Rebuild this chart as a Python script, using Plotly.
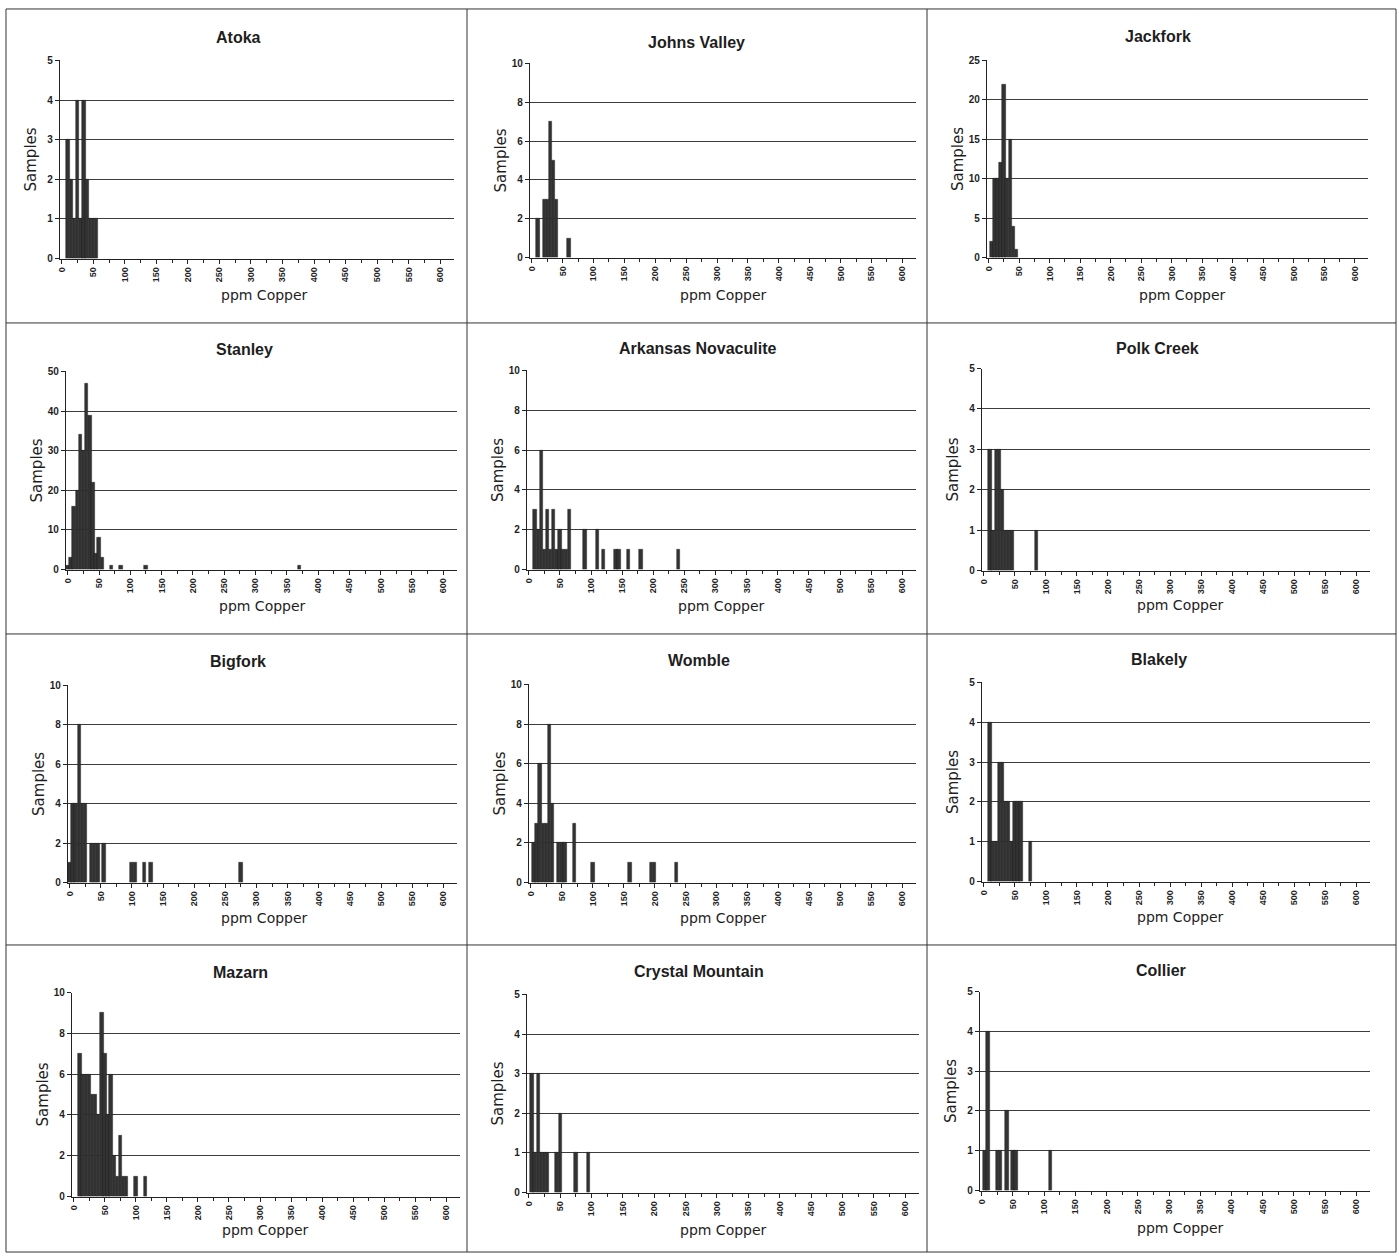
import plotly.graph_objects as go

# Copper distribution (ppm Copper, 5 ppm classes) by formation
atoka_ppm = [10, 15, 20, 25, 30, 35, 40, 45, 50, 55]
atoka_samples = [3, 2, 1, 4, 1, 4, 2, 1, 1, 1]

johns_valley_ppm = [10, 20, 25, 30, 35, 40, 60]
johns_valley_samples = [2, 3, 3, 7, 5, 3, 1]

jackfork_ppm = [5, 10, 15, 20, 25, 30, 35, 40, 45]
jackfork_samples = [2, 10, 10, 12, 22, 10, 15, 4, 1]

stanley_ppm = [0, 5, 10, 15, 20, 25, 30, 35, 40, 45, 50, 55, 70, 85, 125, 370]
stanley_samples = [1, 3, 16, 20, 34, 30, 47, 39, 22, 4, 8, 3, 1, 1, 1, 1]

novaculite_ppm = [10, 15, 20, 25, 30, 35, 40, 45, 50, 55, 60, 65, 90, 110, 120, 140, 145, 160, 180, 240]
novaculite_samples = [3, 2, 6, 1, 3, 1, 3, 1, 2, 1, 1, 3, 2, 2, 1, 1, 1, 1, 1, 1]

polk_creek_ppm = [10, 15, 20, 25, 30, 35, 40, 45, 85]
polk_creek_samples = [3, 1, 3, 3, 2, 1, 1, 1, 1]

bigfork_ppm = [0, 5, 10, 15, 20, 25, 35, 40, 45, 55, 100, 105, 120, 130, 275]
bigfork_samples = [1, 4, 4, 8, 4, 4, 2, 2, 2, 2, 1, 1, 1, 1, 1]

womble_ppm = [5, 10, 15, 20, 25, 30, 35, 45, 50, 55, 70, 100, 160, 195, 200, 235]
womble_samples = [2, 3, 6, 3, 3, 8, 4, 2, 2, 2, 3, 1, 1, 1, 1, 1]

blakely_ppm = [10, 15, 20, 25, 30, 35, 40, 45, 50, 55, 60, 75]
blakely_samples = [4, 1, 1, 3, 3, 2, 2, 1, 2, 2, 2, 1]

mazarn_ppm = [10, 15, 20, 25, 30, 35, 40, 45, 50, 55, 60, 65, 70, 75, 80, 85, 100, 115]
mazarn_samples = [7, 6, 6, 6, 5, 5, 4, 9, 7, 4, 6, 2, 1, 3, 1, 1, 1, 1]

crystal_mtn_ppm = [5, 10, 15, 20, 25, 30, 45, 50, 75, 95]
crystal_mtn_samples = [3, 1, 3, 1, 1, 1, 1, 2, 1, 1]

collier_ppm = [5, 10, 25, 30, 40, 50, 55, 110]
collier_samples = [1, 4, 1, 1, 2, 1, 1, 1]

x_tick_vals = list(range(0, 601, 50))
x_tick_text = [str(v) for v in x_tick_vals]

W, H = 1399, 1260

# name, x, y, y max, y step, plot box (left, right, top, bottom px),
# title (x, y) px, x-title (x, y) px
panels = [
    ("Atoka", atoka_ppm, atoka_samples, 5, 1, (57, 452, 55, 255), (236, 32), (262, 292)),
    ("Johns Valley", johns_valley_ppm, johns_valley_samples, 10, 2, (528, 915, 58, 254), (695, 37), (722, 292)),
    ("Jackfork", jackfork_ppm, jackfork_samples, 25, 5, (986, 1368, 55, 254), (1157, 31), (1182, 292)),
    ("Stanley", stanley_ppm, stanley_samples, 50, 10, (63, 455, 369, 569), (242, 347), (260, 606)),
    ("Arkansas Novaculite", novaculite_ppm, novaculite_samples, 10, 2, (525, 915, 368, 569), (696, 346), (720, 606)),
    ("Polk Creek", polk_creek_ppm, polk_creek_samples, 5, 1, (981, 1370, 366, 570), (1157, 346), (1180, 605)),
    ("Bigfork", bigfork_ppm, bigfork_samples, 10, 2, (65, 455, 686, 885), (236, 662), (262, 921)),
    ("Womble", womble_ppm, womble_samples, 10, 2, (527, 915, 685, 885), (697, 661), (722, 921)),
    ("Blakely", blakely_ppm, blakely_samples, 5, 1, (981, 1370, 683, 884), (1158, 660), (1180, 920)),
    ("Mazarn", mazarn_ppm, mazarn_samples, 10, 2, (69, 458, 996, 1202), (238, 976), (263, 1236)),
    ("Crystal Mountain", crystal_mtn_ppm, crystal_mtn_samples, 5, 1, (525, 918, 998, 1198), (697, 975), (722, 1236)),
    ("Collier", collier_ppm, collier_samples, 5, 1, (979, 1370, 995, 1196), (1160, 974), (1180, 1234)),
]


def px_x(v):
    return v / W


def px_y(v):
    return 1 - v / H


fig = go.Figure()
annotations = []
shapes = []
layout_axes = {}
tick_font = dict(family="Liberation Sans", size=10, color="#1e1e1e", weight="bold")

for i, (name, xs, ys, ymax, ystep, box, title_pos, xt_pos) in enumerate(panels):
    n = i + 1
    xa = "x" if n == 1 else f"x{n}"
    ya = "y" if n == 1 else f"y{n}"
    left, right, top, bottom = box
    fig.add_trace(go.Bar(
        x=xs, y=ys, width=5.5, xaxis=xa, yaxis=ya,
        marker=dict(color="#333333", line=dict(color="#1a1a1a", width=0.4)),
        showlegend=False,
    ))
    layout_axes[f"xaxis{'' if n == 1 else n}"] = dict(
        domain=[px_x(left), px_x(right)], anchor=ya,
        range=[-3, 622], tickmode="array", tickvals=x_tick_vals, ticktext=x_tick_text,
        tickangle=-90, ticks="outside", ticklen=4, tickcolor="#222",
        minor=dict(dtick=25, tick0=0, ticks="outside", ticklen=3, tickcolor="#222"),
        showline=True, linecolor="#222", linewidth=1.2, showgrid=False, zeroline=False,
        tickfont=dict(tick_font, size=9),
    )
    layout_axes[f"yaxis{'' if n == 1 else n}"] = dict(
        domain=[px_y(bottom), px_y(top)], anchor=xa,
        range=[0, ymax], dtick=ystep, ticks="outside", ticklen=4, tickcolor="#222",
        showline=True, linecolor="#222", linewidth=1.2,
        showgrid=True, gridcolor="#3c3c3c", gridwidth=1.2, zeroline=False,
        tickfont=tick_font,
    )
    annotations.append(dict(
        text=f"<b>{name}</b>", x=px_x(title_pos[0]), y=px_y(title_pos[1]),
        xref="paper", yref="paper", xanchor="center", yanchor="middle", showarrow=False,
        font=dict(family="Liberation Sans", size=16, color="#1e1e1e"),
    ))
    annotations.append(dict(
        text="ppm Copper", x=px_x(xt_pos[0]), y=px_y(xt_pos[1]),
        xref="paper", yref="paper", xanchor="center", yanchor="middle", showarrow=False,
        font=dict(family="DejaVu Sans", size=14, color="#1e1e1e"),
    ))
    annotations.append(dict(
        text="Samples", x=px_x(left - 29), y=px_y((top + bottom) / 2), xref="paper", yref="paper",
        xanchor="center", yanchor="middle", showarrow=False, textangle=-90,
        font=dict(family="DejaVu Sans", size=15, color="#1e1e1e"),
    ))

# Page grid framing the twelve charts
for gx in [3, 465, 926, 1396]:
    shapes.append(dict(type="line", xref="paper", yref="paper",
                       x0=px_x(gx), x1=px_x(gx), y0=px_y(3), y1=px_y(1258),
                       line=dict(color="#333", width=1)))
for gy in [3, 320, 634, 948, 1258]:
    shapes.append(dict(type="line", xref="paper", yref="paper",
                       x0=px_x(3), x1=px_x(1396), y0=px_y(gy), y1=px_y(gy),
                       line=dict(color="#333", width=1)))

fig.update_layout(
    width=W, height=H, margin=dict(l=0, r=0, t=0, b=0),
    paper_bgcolor="white", plot_bgcolor="white", bargap=0,
    annotations=annotations, shapes=shapes, **layout_axes,
)

fig.write_html("out.html")
